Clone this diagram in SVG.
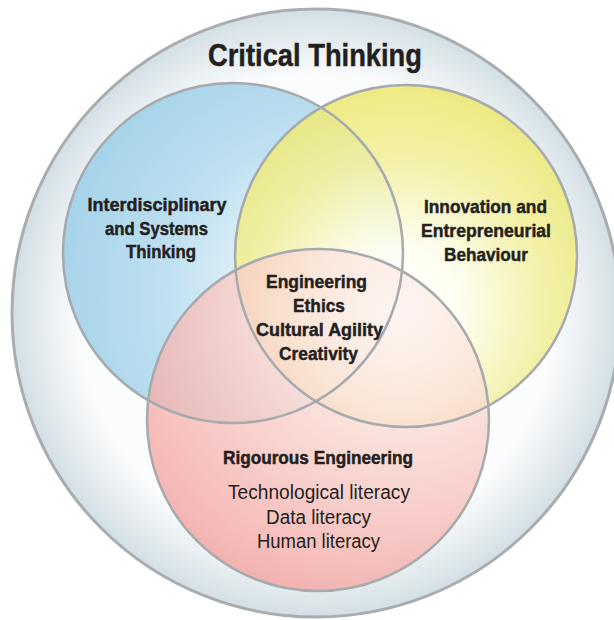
<svg xmlns="http://www.w3.org/2000/svg" width="614" height="620" viewBox="0 0 614 620">
<style>
.ring{fill:none;stroke:#a6aaad;stroke-width:2.5}
.h{font-family:"Liberation Sans",Arial,sans-serif;font-weight:bold;fill:#231f20;stroke:#231f20;stroke-width:0.45;text-anchor:middle}
.r{font-family:"Liberation Sans",Arial,sans-serif;fill:#231f20;text-anchor:middle}
</style>
<defs>
<radialGradient id="gOuter" gradientUnits="userSpaceOnUse" cx="316" cy="313" r="304">
<stop offset="0" stop-color="#ffffff"/>
<stop offset="0.78" stop-color="#fbfcfd"/>
<stop offset="1" stop-color="#d3dfe5"/>
</radialGradient>
<radialGradient id="gBlue" gradientUnits="userSpaceOnUse" cx="330" cy="300" r="275">
<stop offset="0" stop-color="#ffffff"/>
<stop offset="0.2" stop-color="#eff8fc"/>
<stop offset="0.6" stop-color="#bfe0f0"/>
<stop offset="1" stop-color="#a6d3ea"/>
</radialGradient>
<radialGradient id="gYellow" gradientUnits="userSpaceOnUse" cx="400" cy="305" r="235">
<stop offset="0" stop-color="#ffffff"/>
<stop offset="0.25" stop-color="#fefef0"/>
<stop offset="0.62" stop-color="#f2ef9c"/>
<stop offset="1" stop-color="#ebe76a"/>
</radialGradient>
<radialGradient id="gRed" gradientUnits="userSpaceOnUse" cx="400" cy="310" r="320">
<stop offset="0" stop-color="#fdf2ee"/>
<stop offset="0.3" stop-color="#fbe2da"/>
<stop offset="0.65" stop-color="#f7c0bc"/>
<stop offset="1" stop-color="#f39f9c"/>
</radialGradient>
</defs>
<rect width="614" height="620" fill="#ffffff"/>
<g id="critical-thinking">
<circle cx="316" cy="313" r="304" fill="url(#gOuter)" stroke="#a9adb0" stroke-width="3"/>
<text class="h" x="315" y="66" font-size="31" stroke-width="0.7" textLength="214" lengthAdjust="spacingAndGlyphs">Critical Thinking</text>
</g>
<g id="interdisciplinary">
<circle cx="233" cy="253" r="170" fill="url(#gBlue)"/>
<text class="h" x="157" y="211" font-size="18" textLength="139" lengthAdjust="spacingAndGlyphs">Interdisciplinary</text>
<text class="h" x="156.5" y="235" font-size="18" textLength="103" lengthAdjust="spacingAndGlyphs">and Systems</text>
<text class="h" x="161" y="258" font-size="18" textLength="70" lengthAdjust="spacingAndGlyphs">Thinking</text>
</g>
<g id="innovation">
<circle cx="406" cy="256" r="171" fill="url(#gYellow)" fill-opacity="0.88"/>
<text class="h" x="485.5" y="213" font-size="18" textLength="123" lengthAdjust="spacingAndGlyphs">Innovation and</text>
<text class="h" x="486" y="237" font-size="18" textLength="130" lengthAdjust="spacingAndGlyphs">Entrepreneurial</text>
<text class="h" x="486" y="261" font-size="18" textLength="84" lengthAdjust="spacingAndGlyphs">Behaviour</text>
</g>
<g id="rigorous">
<circle cx="318" cy="420" r="171" fill="url(#gRed)" fill-opacity="0.8"/>
<text class="h" x="318" y="463.5" font-size="17.5" textLength="190" lengthAdjust="spacingAndGlyphs">Rigourous Engineering</text>
<text class="r" x="319" y="499" font-size="19.5" textLength="182" lengthAdjust="spacingAndGlyphs">Technological literacy</text>
<text class="r" x="318.5" y="524" font-size="19.5" textLength="105" lengthAdjust="spacingAndGlyphs">Data literacy</text>
<text class="r" x="318.5" y="548" font-size="19.5" textLength="123" lengthAdjust="spacingAndGlyphs">Human literacy</text>
</g>
<g id="outlines">
<circle class="ring" cx="233" cy="253" r="170"/>
<circle class="ring" cx="406" cy="256" r="171"/>
<circle class="ring" cx="318" cy="420" r="171"/>
</g>
<g id="core">
<text class="h" x="316.5" y="288" font-size="18" textLength="101" lengthAdjust="spacingAndGlyphs">Engineering</text>
<text class="h" x="319" y="312" font-size="18" textLength="52" lengthAdjust="spacingAndGlyphs">Ethics</text>
<text class="h" x="319.5" y="336" font-size="18" textLength="127" lengthAdjust="spacingAndGlyphs">Cultural Agility</text>
<text class="h" x="318.5" y="360" font-size="18" textLength="79" lengthAdjust="spacingAndGlyphs">Creativity</text>
</g>
</svg>
